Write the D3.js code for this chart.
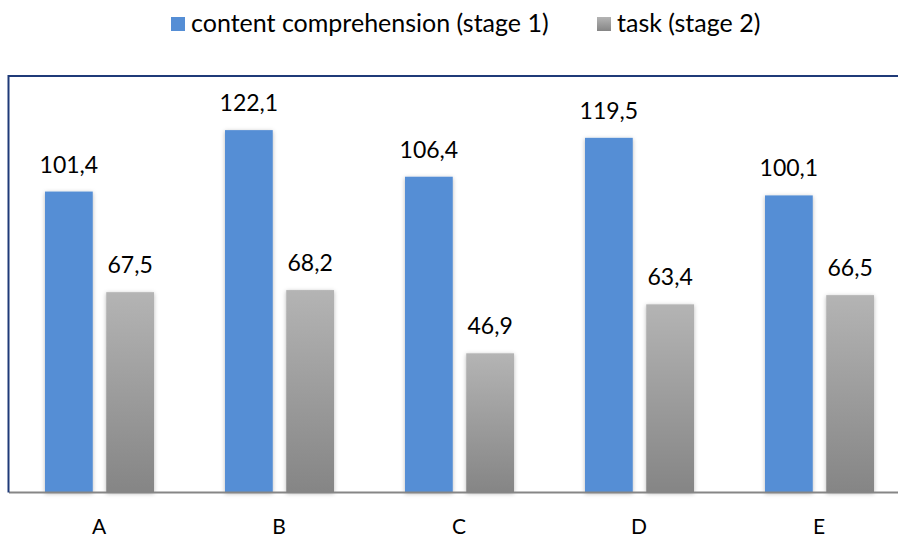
<!DOCTYPE html>
<html>
<head>
<meta charset="utf-8">
<script src="https://cdn.jsdelivr.net/npm/d3@7"></script>
<style>
  html, body { margin: 0; padding: 0; background: #fff; }
  svg { display: block; }
  text { font-family: Lato, "Open Sans", sans-serif; fill: #000; }
</style>
</head>
<body>
<svg id="chart" width="898" height="537"></svg>
<script>
// Chart data
const categories = ["A", "B", "C", "D", "E"];
const seriesNames = ["content comprehension (stage 1)", "task (stage 2)"];
const stage1 = [101.4, 122.1, 106.4, 119.5, 100.1];
const stage2 = [67.5, 68.2, 46.9, 63.4, 66.5];
const yMax = 140;

const width = 898, height = 537;
const plot = { left: 9, right: 909, top: 77, bottom: 492.5 };

const svg = d3.select("#chart");
const defs = svg.append("defs");

// Gray gradient for the second series
const grad = defs.append("linearGradient")
  .attr("id", "grayGrad").attr("x1", 0).attr("y1", 0).attr("x2", 0).attr("y2", 1);
grad.append("stop").attr("offset", "0%").attr("stop-color", "#b4b4b4");
grad.append("stop").attr("offset", "100%").attr("stop-color", "#858585");

// Soft shadow around bars
const shadow = defs.append("filter").attr("id", "barShadow")
  .attr("x", "-30%").attr("y", "-10%").attr("width", "160%").attr("height", "120%");
shadow.append("feDropShadow")
  .attr("dx", 0).attr("dy", 1).attr("stdDeviation", 2)
  .attr("flood-color", "#000").attr("flood-opacity", 0.28);

const x = d3.scaleBand().domain(categories).range([plot.left, plot.right])
  .paddingInner(0).paddingOuter(0);
const xSeries = d3.scaleBand().domain([0, 1]).range([36, 145]).paddingInner(0.22);
const y = d3.scaleLinear().domain([0, yMax]).range([plot.bottom, plot.top]);

const fmt = v => d3.format(".1f")(v).replace(".", ",");

const rows = categories.map((c, i) => ({ cat: c, vals: [stage1[i], stage2[i]] }));
const fills = ["#558ed5", "url(#grayGrad)"];

const groups = svg.append("g").selectAll("g").data(rows).join("g")
  .attr("transform", d => `translate(${x(d.cat)},0)`);

groups.selectAll("rect").data(d => d.vals.map((v, s) => ({ v, s }))).join("rect")
  .attr("x", d => xSeries(d.s))
  .attr("width", xSeries.bandwidth())
  .attr("y", d => y(d.v))
  .attr("height", d => y(0) - y(d.v))
  .attr("fill", d => fills[d.s])
  .attr("filter", "url(#barShadow)");

groups.selectAll("text.val").data(d => d.vals.map((v, s) => ({ v, s }))).join("text")
  .attr("class", "val")
  .attr("x", d => xSeries(d.s) + xSeries.bandwidth() / 2)
  .attr("y", d => y(d.v) - 19)
  .attr("text-anchor", "middle")
  .style("font-size", "23px")
  .text(d => fmt(d.v));

// Baseline
svg.append("line")
  .attr("x1", plot.left).attr("x2", width)
  .attr("y1", y(0)).attr("y2", y(0))
  .attr("stroke", "#868686").attr("stroke-width", 2);

// Frame (top and left)
svg.append("path")
  .attr("d", `M${plot.left - 0.5},${y(0)} V${plot.top - 1} H${width}`)
  .attr("fill", "none").attr("stroke", "#1f3a78").attr("stroke-width", 2);

// Category axis
const xAxis = svg.append("g")
  .attr("transform", `translate(0,${y(0)})`)
  .call(d3.axisBottom(x).tickSize(0).tickPadding(0));
xAxis.select(".domain").remove();
xAxis.selectAll("text")
  .attr("y", 41.5).attr("dy", 0)
  .style("font-size", "21px")
  .style("font-family", "Lato, 'Open Sans', sans-serif")
  .attr("fill", "#000");

// Legend
const legendItems = [
  { name: seriesNames[0], fill: fills[0], x: 171 },
  { name: seriesNames[1], fill: fills[1], x: 597 }
];
const legend = svg.append("g").selectAll("g").data(legendItems).join("g")
  .attr("transform", d => `translate(${d.x},17)`);
legend.append("rect").attr("width", 14).attr("height", 14).attr("fill", d => d.fill);
legend.append("text")
  .attr("x", 20).attr("y", 15)
  .style("font-size", "25px")
  .text(d => d.name);
</script>
</body>
</html>
